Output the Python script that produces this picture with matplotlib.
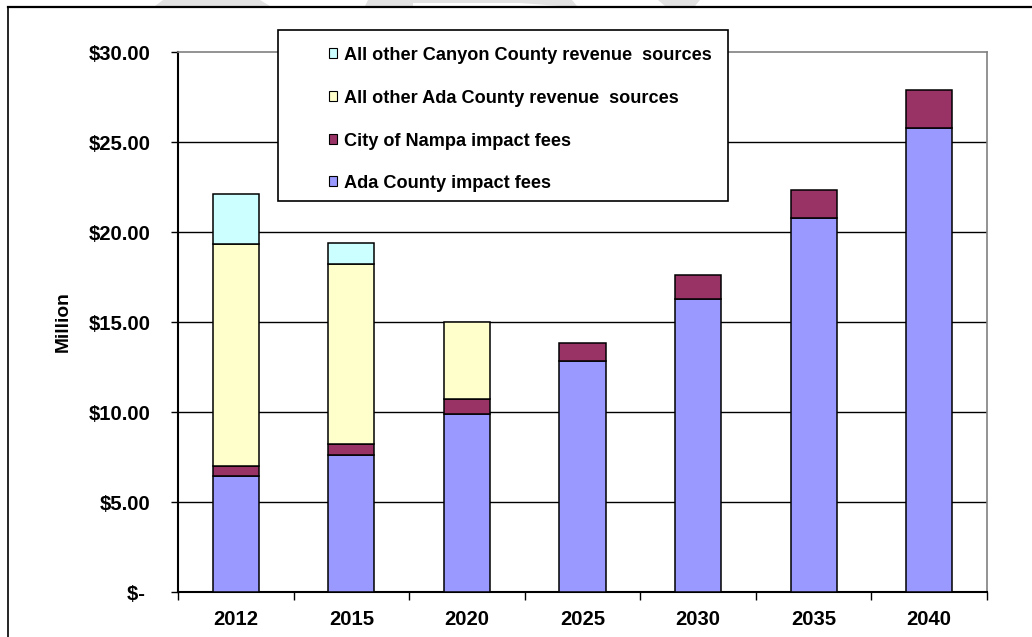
import matplotlib
matplotlib.use("Agg")
import matplotlib.pyplot as plt
from matplotlib.patches import Rectangle, Polygon
from matplotlib.lines import Line2D
import numpy as np

plt.rcParams['font.family'] = ['Liberation Sans', 'DejaVu Sans']
plt.rcParams['font.weight'] = 'bold'

years = ["2012", "2015", "2020", "2025", "2030", "2035", "2040"]
ada_impact = [6.45, 7.6, 9.9, 12.85, 16.3, 20.8, 25.8]
nampa_impact = [0.55, 0.65, 0.8, 1.0, 1.3, 1.55, 2.1]
ada_other = [12.35, 9.95, 4.3, 0.0, 0.0, 0.0, 0.0]
canyon_other = [2.75, 1.2, 0.0, 0.0, 0.0, 0.0, 0.0]

series_names = ["Ada County impact fees", "City of Nampa impact fees",
                "All other Ada County revenue  sources",
                "All other Canyon County revenue  sources"]
series_values = [ada_impact, nampa_impact, ada_other, canyon_other]
series_colors = ["#9999FF", "#993366", "#FFFFCC", "#CCFFFF"]

y_ticks = [0, 5, 10, 15, 20, 25, 30]
y_tick_labels = ["$- ", "$5.00", "$10.00", "$15.00", "$20.00", "$25.00", "$30.00"]

W, H = 1032, 637
fig = plt.figure(figsize=(W / 100, H / 100), dpi=100)

def fx(px):
    return px / W

def fy(py):
    return 1 - py / H

ax = fig.add_axes([fx(178), fy(592), fx(987) - fx(178), fy(52) - fy(592)])

x = np.arange(len(years))
bottom = np.zeros(len(years))
for vals, col in zip(series_values, series_colors):
    v = np.array(vals)
    mask = v > 0
    ax.bar(x[mask], v[mask], 0.4, bottom=bottom[mask], color=col,
           edgecolor="black", linewidth=1.1, zorder=3)
    bottom += v

ax.set_xlim(-0.5, len(years) - 0.5)
ax.set_ylim(0, 30)

ax.set_yticks(y_ticks)
ax.set_yticklabels(y_tick_labels, fontsize=14.6, fontweight='bold')
ax.tick_params(axis='y', direction='out', length=5, width=1, pad=15, colors='black')

ax.set_xticks(np.arange(len(years) + 1) - 0.5)
ax.set_xticklabels([])
ax.set_xticks(x, minor=True)
ax.set_xticklabels(years, minor=True, fontsize=14.6, fontweight='bold')
ax.tick_params(axis='x', which='major', direction='out', length=6, width=1)
ax.tick_params(axis='x', which='minor', length=0, pad=13)

ax.yaxis.grid(True, color='black', linewidth=1.0, zorder=0)
ax.set_axisbelow(True)
ax.get_ygridlines()[-1].set_visible(False)

for s in ['left', 'bottom']:
    ax.spines[s].set_color('black')
    ax.spines[s].set_linewidth(1.5)
for s in ['top', 'right']:
    ax.spines[s].set_color('#808080')
    ax.spines[s].set_linewidth(1.2)

fig.text(fx(63), fy(322), "Million", rotation=90, ha='center', va='center',
         fontsize=13.8, fontweight='bold')

# legend box
leg_box = Rectangle((fx(278), fy(201)), fx(728) - fx(278), fy(30) - fy(201),
                    transform=fig.transFigure, facecolor='white', edgecolor='black',
                    linewidth=1.2, zorder=10)
fig.patches.append(leg_box)
baselines = [60, 103.3, 146, 188.3]
for i, idx in enumerate([3, 2, 1, 0]):
    b = baselines[i]
    sq = Rectangle((fx(329), fy(b - 2.5)), fx(8), fy(0) - fy(9.5),
                   transform=fig.transFigure, facecolor=series_colors[idx],
                   edgecolor='black', linewidth=0.8, zorder=11)
    fig.patches.append(sq)
    fig.text(fx(344), fy(b), series_names[idx], ha='left', va='baseline',
             fontsize=13.1, fontweight='bold', zorder=12)

# outer border
fig.add_artist(Line2D([fx(8), fx(8)], [fy(7), -0.1], transform=fig.transFigure,
                      color='black', linewidth=1.2))
fig.add_artist(Line2D([fx(8), 1.1], [fy(7), fy(7)], transform=fig.transFigure,
                      color='black', linewidth=1.6))

# faint watermark fragments at top
for pts in [[(163, 0), (260, 0), (270, 6), (155, 6)],
            [(368, 0), (572, 0), (577, 6), (560, 6), (520, 3), (413, 3), (413, 6), (365, 6)],
            [(658, 0), (700, 0), (695, 6), (665, 6)]]:
    poly = Polygon([(fx(a), fy(b)) for a, b in pts], closed=True,
                   transform=fig.transFigure, facecolor='#e2e2e2', edgecolor='none')
    fig.patches.append(poly)

fig.savefig("out.png", dpi=100)
